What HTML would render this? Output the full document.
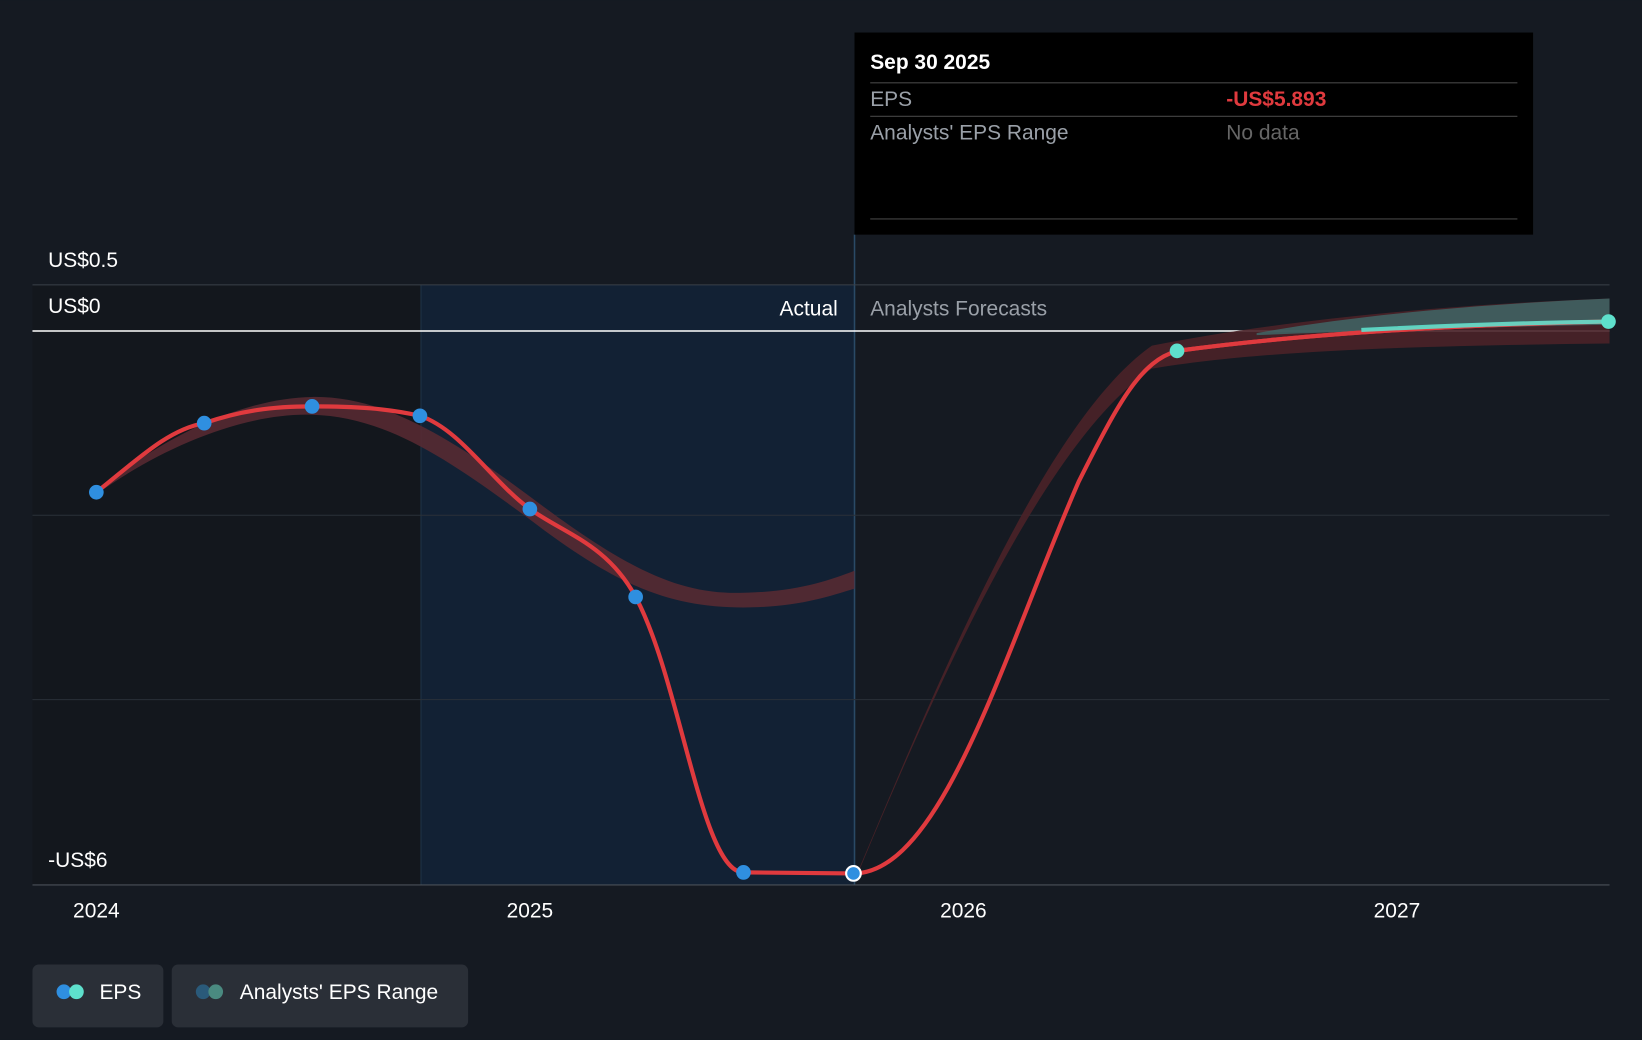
<!DOCTYPE html>
<html><head><meta charset="utf-8"><style>
html,body{margin:0;padding:0;background:#151a22;}
svg{display:block;font-family:"Liberation Sans",sans-serif;}
</style></head><body>
<svg width="1642" height="1040" viewBox="0 0 1568 993" xmlns="http://www.w3.org/2000/svg">
<rect width="1568" height="993" fill="#151a22"/>
<rect x="31" y="272" width="371" height="573" fill="#13171d"/>
<rect x="402" y="272" width="414" height="573" fill="#12233a" opacity="0.8"/>
<line x1="402" y1="272" x2="402" y2="845" stroke="#1f3447" stroke-width="1"/>
<line x1="816" y1="224" x2="816" y2="845" stroke="#2a4a66" stroke-width="1.5"/>
<line x1="31" y1="272" x2="1537" y2="272" stroke="#3a4048" stroke-width="1"/>
<line x1="31" y1="492" x2="1537" y2="492" stroke="#2a3038" stroke-width="1"/>
<line x1="31" y1="668" x2="1537" y2="668" stroke="#2a3038" stroke-width="1"/>
<line x1="31" y1="845" x2="1537" y2="845" stroke="#4a5058" stroke-width="1"/>
<line x1="31" y1="316" x2="1537" y2="316" stroke="#ffffff" stroke-width="1.5"/>
<!-- actual range band -->
<path d="M92,470 C150,420 230,380 298,379 C360,378 420,410 506,474 C600,545 650,568 710,566 C760,565 790,555 816,545 L816,562 C790,570 760,580 710,580 C640,580 590,560 506,496 C430,440 370,398 298,396 C230,394 150,430 92,472 Z" fill="#5a2a33" opacity="0.85"/>
<!-- forecast range band -->
<path d="M816,840 C900,640 1000,400 1100,330 C1200,310 1350,292 1537,285 L1537,328 C1350,330 1200,335 1100,352 C1000,420 900,640 816,842 Z" fill="#4a2228" opacity="0.9"/>
<path d="M1200,318 C1300,300 1420,290 1537,285 L1537,310 C1420,312 1300,316 1200,320 Z" fill="#3f6a6a" opacity="0.8"/>
<!-- EPS line -->
<path d="M92,470 C130,440 160,410 195,404 C230,392 260,388 298,388 C340,388 370,390 401,397 C440,410 470,460 506,486 C540,510 580,520 607,570 C650,650 670,833 710,833 L815,834 C900,834 960,620 1030,460 C1070,380 1090,345 1124,335 C1250,318 1400,310 1536,307" fill="none" stroke="#e03a3e" stroke-width="4"/>
<path d="M1124,335 C1250,318 1400,310 1536,307" fill="none" stroke="#e03a3e" stroke-width="4"/>
<path d="M1300,315 C1400,310 1470,308 1536,307" fill="none" stroke="#5ee0cc" stroke-width="4" opacity="0.9"/>
<g fill="#2f8fe0">
<circle cx="92" cy="470" r="7"/><circle cx="195" cy="404" r="7"/><circle cx="298" cy="388" r="7"/><circle cx="401" cy="397" r="7"/><circle cx="506" cy="486" r="7"/><circle cx="607" cy="570" r="7"/><circle cx="710" cy="833" r="7"/>
</g>
<circle cx="815" cy="834" r="7" fill="#2f8fe0" stroke="#fff" stroke-width="2"/>
<circle cx="1124" cy="335" r="7" fill="#5ee0cc"/>
<circle cx="1536" cy="307" r="7" fill="#5ee0cc"/>
<g fill="#fff" font-size="20">
<text x="46" y="255">US$0.5</text>
<text x="46" y="299">US$0</text>
<text x="46" y="828">-US$6</text>
<text x="800" y="301" text-anchor="end">Actual</text>
<text x="831" y="301" fill="#9aa0a8">Analysts Forecasts</text>
<text x="92" y="876" text-anchor="middle">2024</text>
<text x="506" y="876" text-anchor="middle">2025</text>
<text x="920" y="876" text-anchor="middle">2026</text>
<text x="1334" y="876" text-anchor="middle">2027</text>
</g>
<rect x="816" y="31" width="648" height="193" fill="#000"/>
<g font-size="20">
<text x="831" y="66" fill="#fff" font-weight="bold">Sep 30 2025</text>
<line x1="831" y1="79" x2="1449" y2="79" stroke="#444"/>
<text x="831" y="101" fill="#9aa0a8">EPS</text>
<text x="1171" y="101" fill="#e03a3e" font-weight="bold">-US$5.893</text>
<line x1="831" y1="111" x2="1449" y2="111" stroke="#444"/>
<text x="831" y="133" fill="#9aa0a8">Analysts' EPS Range</text>
<text x="1171" y="133" fill="#666">No data</text>
<line x1="831" y1="209" x2="1449" y2="209" stroke="#444"/>
</g>
<rect x="31" y="921" width="125" height="60" rx="6" fill="#2a2f37"/>
<circle cx="61" cy="947" r="7" fill="#2f8fe0"/><circle cx="73" cy="947" r="7" fill="#5ee0cc"/>
<text x="95" y="954" fill="#fff" font-size="20">EPS</text>
<rect x="164" y="921" width="283" height="60" rx="6" fill="#2a2f37"/>
<circle cx="194" cy="947" r="7" fill="#2a5a7a"/><circle cx="206" cy="947" r="7" fill="#4a8a80"/>
<text x="229" y="954" fill="#fff" font-size="20">Analysts' EPS Range</text>
</svg>
</body></html>
